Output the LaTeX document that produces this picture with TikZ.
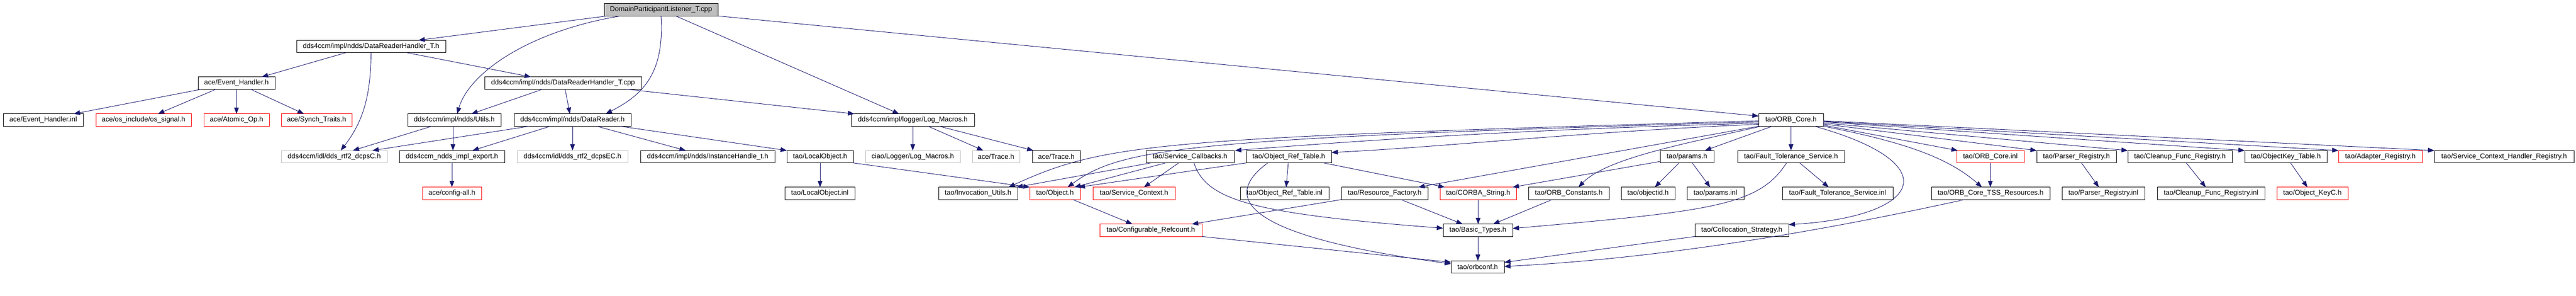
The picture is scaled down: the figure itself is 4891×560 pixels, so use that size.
\documentclass[tikz,border=0pt]{standalone}
\usepackage{fontspec}
\setmainfont{Liberation Sans}
\usetikzlibrary{arrows.meta}
\definecolor{edgeblue}{HTML}{191970}
\definecolor{boxred}{HTML}{FF0000}
\definecolor{boxgray}{HTML}{BFBFBF}
\begin{document}
\begin{tikzpicture}[x=1pt,y=1pt,
  box/.style={draw=black,line width=1pt,inner sep=0pt,outer sep=0pt,minimum height=23.5pt,font=\fontsize{13.2}{15}\selectfont,text=black},
  redbox/.style={box,draw=boxred},
  graybox/.style={box,draw=boxgray},
  rootbox/.style={box,fill=boxgray},
  edge/.style={draw=edgeblue,line width=0.9pt,-{Triangle[length=12pt,width=9pt,fill=edgeblue]}}]
\useasboundingbox[fill=white] (0,0) rectangle (4891,-560);
% row 0
\node[rootbox,minimum width=216pt] (root) at (1255,-18.5) {DomainParticipantListener\_T.cpp};
% row 1
\node[box,minimum width=283pt] (drht) at (704.5,-88) {dds4ccm/impl/ndds/DataReaderHandler\_T.h};
% row 2
\node[box,minimum width=146pt] (eh) at (449,-157.5) {ace/Event\_Handler.h};
\node[box,minimum width=298pt] (drhcpp) at (1069,-157.5) {dds4ccm/impl/ndds/DataReaderHandler\_T.cpp};
% row 3
\node[box,minimum width=152pt] (ehinl) at (82,-227.5) {ace/Event\_Handler.inl};
\node[redbox,minimum width=181pt] (ossig) at (272.5,-227.5) {ace/os\_include/os\_signal.h};
\node[redbox,minimum width=124pt] (atomic) at (449,-227.5) {ace/Atomic\_Op.h};
\node[redbox,minimum width=134pt] (synch) at (601,-227.5) {ace/Synch\_Traits.h};
\node[box,minimum width=177pt] (utils) at (862.5,-227.5) {dds4ccm/impl/ndds/Utils.h};
\node[box,minimum width=222pt] (dr) at (1087,-227.5) {dds4ccm/impl/ndds/DataReader.h};
\node[box,minimum width=234pt] (logm) at (1733,-227.5) {dds4ccm/impl/logger/Log\_Macros.h};
\node[box,minimum width=123pt] (orbcore) at (3400.5,-227.5) {tao/ORB\_Core.h};
% row 4
\node[graybox,minimum width=201pt] (dcpsc) at (634.5,-297) {dds4ccm/idl/dds\_rtf2\_dcpsC.h};
\node[box,minimum width=200pt] (export) at (858,-297) {dds4ccm\_ndds\_impl\_export.h};
\node[graybox,minimum width=210pt] (dcpsec) at (1087,-297) {dds4ccm/idl/dds\_rtf2\_dcpsEC.h};
\node[box,minimum width=255pt] (insth) at (1343.5,-297) {dds4ccm/impl/ndds/InstanceHandle\_t.h};
\node[box,minimum width=126pt] (locobj) at (1557,-297) {tao/LocalObject.h};
\node[graybox,minimum width=180pt] (ciaolog) at (1733,-297) {ciao/Logger/Log\_Macros.h};
\node[graybox,minimum width=90pt] (tracegray) at (1891,-297) {ace/Trace.h};
\node[box,minimum width=91pt] (trace) at (2005.5,-297) {ace/Trace.h};
\node[box,minimum width=167pt] (svccb) at (2259.5,-297) {tao/Service\_Callbacks.h};
\node[box,minimum width=162pt] (ort) at (2447,-297) {tao/Object\_Ref\_Table.h};
\node[box,minimum width=102pt] (params) at (3203,-297) {tao/params.h};
\node[box,minimum width=203pt] (fts) at (3400.5,-297) {tao/Fault\_Tolerance\_Service.h};
\node[redbox,minimum width=128pt] (orbinl) at (3779,-297) {tao/ORB\_Core.inl};
\node[box,minimum width=151pt] (parser) at (3942.5,-297) {tao/Parser\_Registry.h};
\node[box,minimum width=198pt] (cleanup) at (4139,-297) {tao/Cleanup\_Func\_Registry.h};
\node[box,minimum width=156pt] (okt) at (4340,-297) {tao/ObjectKey\_Table.h};
\node[redbox,minimum width=159pt] (adapter) at (4519.5,-297) {tao/Adapter\_Registry.h};
\node[box,minimum width=265pt] (schr) at (4754.5,-297) {tao/Service\_Context\_Handler\_Registry.h};
% row 5
\node[redbox,minimum width=112pt] (config) at (858,-366.5) {ace/config-all.h};
\node[box,minimum width=133pt] (locinl) at (1556.5,-366.5) {tao/LocalObject.inl};
\node[box,minimum width=150pt] (invoc) at (1857,-366.5) {tao/Invocation\_Utils.h};
\node[redbox,minimum width=96pt] (object) at (2003,-366.5) {tao/Object.h};
\node[redbox,minimum width=156pt] (svcctx) at (2153,-366.5) {tao/Service\_Context.h};
\node[box,minimum width=168pt] (ortinl) at (2439,-366.5) {tao/Object\_Ref\_Table.inl};
\node[box,minimum width=164pt] (resf) at (2629,-366.5) {tao/Resource\_Factory.h};
\node[redbox,minimum width=145pt] (corbastr) at (2806.5,-366.5) {tao/CORBA\_String.h};
\node[box,minimum width=153pt] (orbconst) at (2978.5,-366.5) {tao/ORB\_Constants.h};
\node[box,minimum width=102pt] (objid) at (3129,-366.5) {tao/objectid.h};
\node[box,minimum width=108pt] (paramsinl) at (3257,-366.5) {tao/params.inl};
\node[box,minimum width=210pt] (ftsinl) at (3489,-366.5) {tao/Fault\_Tolerance\_Service.inl};
\node[box,minimum width=225pt] (tss) at (3779.5,-366.5) {tao/ORB\_Core\_TSS\_Resources.h};
\node[box,minimum width=157pt] (parserinl) at (3993.5,-366.5) {tao/Parser\_Registry.inl};
\node[box,minimum width=204pt] (cleanupinl) at (4198,-366.5) {tao/Cleanup\_Func\_Registry.inl};
\node[redbox,minimum width=135pt] (okc) at (4390.5,-366.5) {tao/Object\_KeyC.h};
% row 6
\node[redbox,minimum width=194pt] (cfgref) at (2185,-436.5) {tao/Configurable\_Refcount.h};
\node[box,minimum width=132pt] (basic) at (2806,-436.5) {tao/Basic\_Types.h};
\node[box,minimum width=178pt] (colloc) at (3307,-436.5) {tao/Collocation\_Strategy.h};
% row 7
\node[box,minimum width=101pt] (orbconf) at (2805.5,-506) {tao/orbconf.h};

% edges from root
\draw[edge] ([xshift=-102pt]root.south) -- ([xshift=90pt]drht.north);
\draw[edge] ([xshift=-77pt]root.south) .. controls (1000,-60) and (890,-140) .. ([xshift=5.5pt]utils.north);
\draw[edge] (root.south) .. controls (1262,-140) and (1220,-180) .. ([xshift=63pt]dr.north);
\draw[edge] ([xshift=28pt]root.south) -- ([xshift=-26pt]logm.north);
\draw[edge] (root.south east) -- ([yshift=7.5pt]orbcore.west);
% DataReaderHandler_T.h
\draw[edge] ([xshift=-47.5pt]drht.south) -- ([xshift=48pt]eh.north);
\draw[edge] (drht.south) .. controls (704,-180) and (690,-230) .. ([xshift=12.5pt]dcpsc.north);
\draw[edge] ([xshift=67.5pt]drht.south) -- ([xshift=-61pt]drhcpp.north);
% Event_Handler.h
\draw[edge] ([xshift=-67pt]eh.south) -- ([xshift=58pt]ehinl.north);
\draw[edge] ([xshift=-39pt]eh.south) -- ([xshift=27.5pt]ossig.north);
\draw[edge] (eh.south) -- (atomic.north);
\draw[edge] ([xshift=27pt]eh.south) -- ([xshift=-24pt]synch.north);
% DataReaderHandler_T.cpp
\draw[edge] ([xshift=-39pt]drhcpp.south) -- ([xshift=32.5pt]utils.north);
\draw[edge] ([xshift=4pt]drhcpp.south) -- ([xshift=-5pt]dr.north);
\draw[edge] ([xshift=121pt]drhcpp.south) -- ([xshift=-111pt]logm.north);
% Utils.h
\draw[edge] ([xshift=-42.5pt]utils.south) -- ([xshift=35.5pt]dcpsc.north);
\draw[edge] ([xshift=-2.5pt]utils.south) -- ([xshift=-2.5pt]utils.south |- export.north);
% DataReader.h
\draw[edge] ([xshift=-82pt]dr.south) -- ([xshift=72.5pt]dcpsc.north);
\draw[edge] ([xshift=-42pt]dr.south) -- ([xshift=39pt]export.north);
\draw[edge] (dr.south) -- (dcpsec.north);
\draw[edge] ([xshift=46pt]dr.south) -- ([xshift=-41.5pt]insth.north);
\draw[edge] ([xshift=90pt]dr.south) -- (locobj.north west);
% export, LocalObject
\draw[edge] (export.south) -- (export.south |- config.north);
\draw[edge] (locobj.south) -- (locobj.south |- locinl.north);
\draw[edge] (locobj.south east) -- (object.north west);
% Log_Macros
\draw[edge] (logm.south) -- (ciaolog.north);
\draw[edge] ([xshift=29pt]logm.south) -- ([xshift=-24pt]tracegray.north);
\draw[edge] ([xshift=50pt]logm.south) -- ([xshift=-43.5pt]trace.north);
% ORB_Core.h leftwards
\draw[edge] ([yshift=-1.5pt]orbcore.west) .. controls (2200,-262) and (2100,-270) .. ([xshift=-17pt]invoc.north east);
\draw[edge] ([yshift=-3.5pt]orbcore.west) .. controls (2250,-262) and (2130,-280) .. ([xshift=24pt]object.north);
\draw[edge] ([yshift=-6pt]orbcore.west) .. controls (2900,-245) and (2600,-265) .. ([xshift=2pt]svccb.north east);
\draw[edge] ([yshift=-8pt]orbcore.west) .. controls (3000,-250) and (2750,-278) .. ([yshift=8pt]ort.east);
\draw[edge] (orbcore.south west) -- ([xshift=64pt]resf.north);
\draw[edge] ([xshift=5pt]orbcore.south west) .. controls (3200,-272) and (3050,-300) .. ([xshift=18.5pt]orbconst.north);
\draw[edge] ([xshift=-35.5pt]orbcore.south) -- ([xshift=34pt]params.north);
\draw[edge] (orbcore.south) -- (fts.north);
\draw[edge] ([xshift=44.5pt]orbcore.south) .. controls (3700,-310) and (3650,-410) .. ([yshift=-1pt]colloc.north east);
% ORB_Core.h rightwards
\draw[edge] ([yshift=2pt]orbcore.south east) -- ([xshift=2pt]orbinl.north west);
\draw[edge] (orbcore.south east) .. controls (3620,-270) and (3700,-300) .. ([xshift=-16.5pt]tss.north);
\draw[edge] (orbinl.south) -- (orbinl.south |- tss.north);
\draw[edge] ([yshift=-7.5pt]orbcore.east) -- (parser.north west);
\draw[edge] ([yshift=-5.5pt]orbcore.east) -- (cleanup.north west);
\draw[edge] ([yshift=-3.5pt]orbcore.east) -- (okt.north west);
\draw[edge] ([yshift=-2.5pt]orbcore.east) -- (adapter.north west);
\draw[edge] ([yshift=-1.5pt]orbcore.east) -- (schr.north west);
% registries
\draw[edge] ([xshift=9.5pt]parser.south) -- ([xshift=-8.5pt]parserinl.north);
\draw[edge] ([xshift=12pt]cleanup.south) -- ([xshift=-10pt]cleanupinl.north);
\draw[edge] ([xshift=9pt]okt.south) -- ([xshift=-9.5pt]okc.north);
% params, FT
\draw[edge] ([yshift=-9pt]params.west) -- ([xshift=65.5pt]corbastr.north);
\draw[edge] ([xshift=-15pt]params.south) -- ([xshift=13pt]objid.north);
\draw[edge] ([xshift=10pt]params.south) -- ([xshift=-10pt]paramsinl.north);
\draw[edge] ([xshift=16.5pt]fts.south) -- ([xshift=-17pt]ftsinl.north);
\draw[edge] ([xshift=-8.5pt]fts.south) .. controls (3340,-390) and (3250,-400) .. ([yshift=3.5pt]basic.east);
% Basic types
\draw[edge] (corbastr.south) -- (corbastr.south |- basic.north);
\draw[edge] ([xshift=-31.5pt]orbconst.south) -- ([xshift=29pt]basic.north);
\draw[edge] ([xshift=31pt]resf.south) -- ([xshift=-29pt]basic.north);
\draw[edge] (basic.south) -- (basic.south |- orbconf.north);
% Object_Ref_Table
\draw[edge] ([xshift=-1pt]ort.south) -- ([xshift=3pt]ortinl.north);
\draw[edge] ([xshift=66pt]ort.south) -- ([xshift=-63.5pt]corbastr.north);
\draw[edge] (ort.south west) -- ([xshift=45pt]object.north);
\draw[edge] ([xshift=-40pt]ort.south) .. controls (2310,-380) and (2380,-450) .. ([yshift=6pt]orbconf.west);
% Service_Callbacks
\draw[edge] ([xshift=-74.5pt]svccb.south) -- ([xshift=-2pt]invoc.north east);
\draw[edge] ([xshift=-46.5pt]svccb.south) -- ([xshift=37pt]object.north);
\draw[edge] ([xshift=-21.5pt]svccb.south) -- ([xshift=19pt]svcctx.north);
\draw[edge] ([xshift=7.5pt]svccb.south) .. controls (2290,-380) and (2380,-405) .. ([yshift=4pt]basic.west);
% Configurable_Refcount
\draw[edge] (resf.south west) -- ([xshift=78pt]cfgref.north);
\draw[edge] ([xshift=34pt]object.south) -- ([xshift=-35pt]cfgref.north);
\draw[edge] (cfgref.south east) -- ([yshift=9pt]orbconf.west);
% orbconf
\draw[edge] (colloc.south west) -- ([yshift=-3pt]orbconf.north east);
\draw[edge] ([xshift=-49.5pt]tss.south) .. controls (3450,-440) and (3150,-490) .. ([yshift=1pt]orbconf.east);
\end{tikzpicture}
\end{document}
